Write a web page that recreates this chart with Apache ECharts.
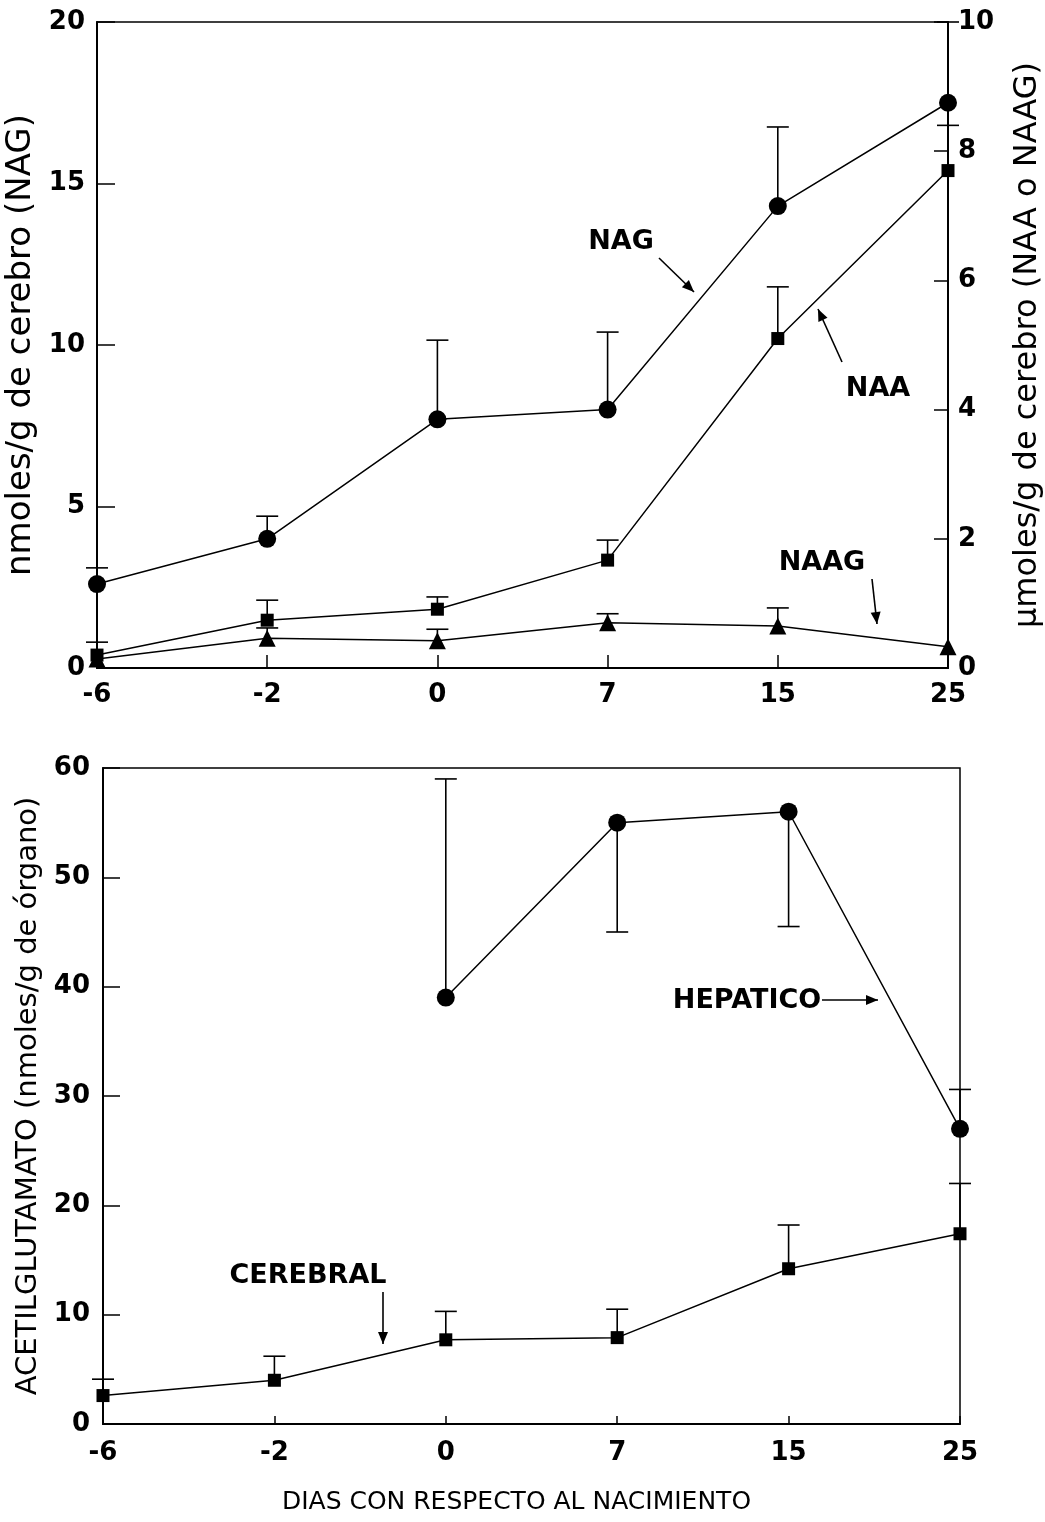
<!DOCTYPE html>
<html lang="es">
<head>
  <meta charset="UTF-8">
  <title>Acetilglutamato</title>
  <style>
    html, body { margin: 0; padding: 0; background: #fff; }
    #chart { width: 1045px; height: 1522px; }
  </style>
</head>
<body>
  <div id="chart"></div>

  <script src="https://cdn.jsdelivr.net/npm/echarts@6/dist/echarts.min.js"></script>
  <script>
    // days relative to birth
    var days = ['-6', '-2', '0', '7', '15', '25'];

    // top panel: NAG (left axis, nmoles/g), NAA and NAAG (right axis, umoles/g)
    var nag = [2.6, 4.0, 7.7, 8.0, 14.3, 17.5];
    var nagErr = [3.1, 4.7, 10.15, 10.4, 16.75, 20];
    var naa = [0.2, 0.74, 0.91, 1.67, 5.1, 7.7];
    var naaErr = [0.4, 1.05, 1.1, 1.98, 5.9, 8.4];
    var naag = [0.14, 0.46, 0.42, 0.7, 0.65, 0.33];
    var naagErr = [null, 0.62, 0.6, 0.84, 0.93, null];

    // bottom panel: acetilglutamato in liver and brain
    var hepatico = [null, null, 39, 55, 56, 27];
    var hepaticoErr = [null, null, 59, 45, 45.5, 30.6];
    var cerebral = [2.6, 4.0, 7.7, 7.9, 14.2, 17.4];
    var cerebralErr = [4.1, 6.2, 10.3, 10.5, 18.2, 22];

    var font = 'DejaVu Sans';

    function errData(vals, errs) {
      var out = [];
      vals.forEach(function (v, i) {
        if (v != null && errs[i] != null) out.push([i, v, errs[i]]);
      });
      return out;
    }

    function errRender(params, api) {
      var x = api.value(0);
      var p0 = api.coord([x, api.value(1)]);
      var p1 = api.coord([x, api.value(2)]);
      var w = 11;
      return {
        type: 'group',
        children: [
          { type: 'line', shape: { x1: p0[0], y1: p0[1], x2: p1[0], y2: p1[1] }, style: { stroke: '#000', lineWidth: 1.6 } },
          { type: 'line', shape: { x1: p1[0] - w, y1: p1[1], x2: p1[0] + w, y2: p1[1] }, style: { stroke: '#000', lineWidth: 1.6 } }
        ]
      };
    }

    function errSeries(vals, errs, xi, yi) {
      return {
        type: 'custom',
        xAxisIndex: xi,
        yAxisIndex: yi,
        renderItem: errRender,
        encode: { x: 0, y: [1, 2] },
        data: errData(vals, errs),
        clip: false,
        silent: true,
        z: 2
      };
    }

    function lineSeries(vals, symbol, size, xi, yi) {
      return {
        type: 'line',
        xAxisIndex: xi,
        yAxisIndex: yi,
        data: vals,
        symbol: symbol,
        symbolSize: size,
        showSymbol: true,
        connectNulls: false,
        lineStyle: { color: '#000', width: 1.5 },
        itemStyle: { color: '#000' },
        z: 3,
        animation: false
      };
    }

    var boldLabel = { color: '#000', fontFamily: font, fontWeight: 'bold', fontSize: 26 };

    function arrowHead(x1, y1, x2, y2) {
      var a = Math.atan2(y2 - y1, x2 - x1);
      var len = 12, half = 5;
      var bx = x2 - len * Math.cos(a), by = y2 - len * Math.sin(a);
      return {
        type: 'polygon',
        shape: { points: [[x2, y2], [bx - half * Math.sin(a), by + half * Math.cos(a)], [bx + half * Math.sin(a), by - half * Math.cos(a)]] },
        style: { fill: '#000' }
      };
    }

    function arrow(x1, y1, x2, y2) {
      return [
        { type: 'line', shape: { x1: x1, y1: y1, x2: x2, y2: y2 }, style: { stroke: '#000', lineWidth: 1.6 } },
        arrowHead(x1, y1, x2, y2)
      ];
    }

    function label(txt, x, y) {
      return {
        type: 'text', x: x, y: y,
        style: { text: txt, fill: '#000', font: 'bold 27px "DejaVu Sans"', textAlign: 'center', textVerticalAlign: 'middle' }
      };
    }

    var graphics = [
      label('NAG', 621, 242),
      label('NAA', 878, 389),
      label('NAAG', 822, 563),
      label('CEREBRAL', 308, 1276),
      label('HEPATICO', 747, 1001)
    ].concat(
      arrow(659, 258, 694, 292),
      arrow(842, 362, 818, 309),
      arrow(872, 579, 877, 624),
      arrow(383, 1292, 383, 1344),
      arrow(822, 1000, 878, 1000)
    );

    var chart = echarts.init(document.getElementById('chart'));

    var option = {
      animation: false,
      backgroundColor: '#fff',
      grid: [
        { left: 97, right: 97, top: 22, height: 646, show: true, borderColor: '#000', borderWidth: 1.5, outerBoundsMode: 'none', containLabel: false },
        { left: 103, right: 85, top: 768, height: 656, show: true, borderColor: '#000', borderWidth: 1.5, outerBoundsMode: 'none', containLabel: false }
      ],
      xAxis: [
        {
          type: 'category', gridIndex: 0, data: days, boundaryGap: false,
          axisLine: { lineStyle: { color: '#000', width: 2 } },
          axisTick: { inside: true, length: 13, lineStyle: { color: '#000', width: 1.5 } },
          axisLabel: Object.assign({ margin: 14 }, boldLabel),
          splitLine: { show: false }
        },
        {
          type: 'category', gridIndex: 1, data: days, boundaryGap: false,
          axisLine: { lineStyle: { color: '#000', width: 2 } },
          axisTick: { inside: true, length: 8, lineStyle: { color: '#000', width: 1.5 } },
          axisLabel: Object.assign({ margin: 16 }, boldLabel),
          name: 'DIAS CON RESPECTO AL NACIMIENTO',
          nameLocation: 'middle',
          nameGap: 66,
          nameTextStyle: { color: '#000', fontFamily: font, fontSize: 25, padding: [0, 30, 0, 0] },
          splitLine: { show: false }
        }
      ],
      yAxis: [
        {
          type: 'value', gridIndex: 0, min: 0, max: 20, interval: 5, position: 'left',
          name: 'nmoles/g de cerebro (NAG)', nameLocation: 'middle', nameRotate: 90, nameGap: 51,
          nameTextStyle: { color: '#000', fontFamily: font, fontSize: 34 },
          axisLine: { show: true, lineStyle: { color: '#000', width: 2 } },
          axisTick: { show: true, inside: true, length: 18, lineStyle: { color: '#000', width: 1.5 } },
          axisLabel: Object.assign({ margin: 12 }, boldLabel),
          splitLine: { show: false }
        },
        {
          type: 'value', gridIndex: 0, min: 0, max: 10, interval: 2, position: 'right',
          name: 'µmoles/g de cerebro (NAA o NAAG)', nameLocation: 'middle', nameRotate: 90, nameGap: 64,
          nameTextStyle: { color: '#000', fontFamily: font, fontSize: 32 },
          axisLine: { show: true, lineStyle: { color: '#000', width: 2 } },
          axisTick: { show: true, inside: true, length: 14, lineStyle: { color: '#000', width: 1.5 } },
          axisLabel: Object.assign({ margin: 10 }, boldLabel),
          splitLine: { show: false }
        },
        {
          type: 'value', gridIndex: 1, min: 0, max: 60, interval: 10, position: 'left',
          name: 'ACETILGLUTAMATO (nmoles/g de órgano)', nameLocation: 'middle', nameRotate: 90, nameGap: 51,
          nameTextStyle: { color: '#000', fontFamily: font, fontSize: 29 },
          axisLine: { show: true, lineStyle: { color: '#000', width: 2 } },
          axisTick: { show: true, inside: true, length: 17, lineStyle: { color: '#000', width: 1.5 } },
          axisLabel: Object.assign({ margin: 13 }, boldLabel),
          splitLine: { show: false }
        }
      ],
      series: [
        errSeries(nag, nagErr, 0, 0),
        errSeries(naa, naaErr, 0, 1),
        errSeries(naag, naagErr, 0, 1),
        lineSeries(nag, 'circle', 18, 0, 0),
        lineSeries(naa, 'rect', 13, 0, 1),
        lineSeries(naag, 'triangle', 17, 0, 1),
        errSeries(hepatico, hepaticoErr, 1, 2),
        errSeries(cerebral, cerebralErr, 1, 2),
        lineSeries(hepatico, 'circle', 18, 1, 2),
        lineSeries(cerebral, 'rect', 13, 1, 2)
      ],
      graphic: graphics
    };

    chart.setOption(option);
  </script>
</body>
</html>
